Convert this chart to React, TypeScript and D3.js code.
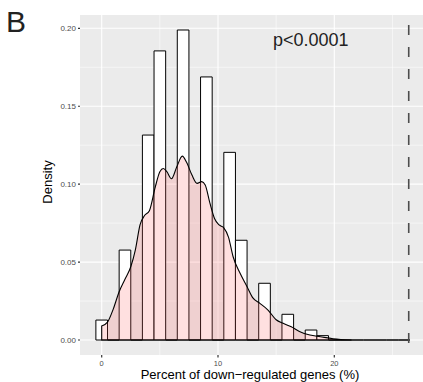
import React from "react";
import * as d3 from "d3";

// histogram bins (width 1, centred on integers) as density
const binMids = [0, 1, 2, 3, 4, 5, 6, 7, 8, 9, 10, 11, 12, 13, 14, 15, 16, 17, 18, 19, 20, 21, 22, 23, 24, 25, 26];
const binDensity = [
  0.0128, 0, 0.0577, 0, 0.1315, 0.1855, 0, 0.1989, 0, 0.1688, 0, 0.1204, 0.064, 0, 0.0364, 0,
  0.0165, 0, 0.0064, 0.0028, 0, 0, 0, 0, 0, 0, 0,
];

// kernel density curve
const densityX = [
  0, 0.5, 1.0, 1.5, 2.0, 2.5, 2.9, 3.3, 3.7, 4.1, 4.6, 5.0, 5.3, 5.6, 6.0, 6.45, 6.93, 7.3, 7.75,
  8.2, 8.6, 8.9, 9.3, 9.7, 10.1, 10.5, 10.9, 11.3, 11.9, 12.5, 13.0, 13.6, 14.3, 15.0, 15.6, 16.3,
  17.0, 17.9, 18.8, 19.9, 21.5,
];
const densityY = [
  0.009, 0.0115, 0.02, 0.031, 0.039, 0.047, 0.058, 0.074, 0.08, 0.083, 0.098, 0.108, 0.11, 0.108,
  0.1035, 0.111, 0.118, 0.114, 0.106, 0.1005, 0.1016, 0.0995, 0.088, 0.078, 0.0738, 0.072, 0.066,
  0.0534, 0.0428, 0.0342, 0.027, 0.0235, 0.0192, 0.013, 0.0107, 0.0085, 0.0055, 0.0032, 0.0021,
  0.0008, 0,
];

const observedValue = 26.4;
const xTicks = [0, 10, 20];
const xMinor = [5, 15, 25];
const yTicks = [0, 0.05, 0.1, 0.15, 0.2];
const yMinor = [0.025, 0.075, 0.125, 0.175];

const W = 423;
const H = 382;
const panel = { left: 80, right: 424, top: 15, bottom: 355 };
const font = "'Liberation Sans', Arial, Helvetica, sans-serif";

export default function App() {
  const x = d3.scaleLinear().domain([0, 20]).range([101.7, 334.3]);
  const y = d3.scaleLinear().domain([0, 0.2]).range([340, 28.3]);

  const density = densityX.map((d, i) => [d, densityY[i]] as [number, number]);
  const area = d3
    .area<[number, number]>()
    .x((d) => x(d[0]))
    .y0(y(0))
    .y1((d) => y(d[1]))
    .curve(d3.curveMonotoneX);

  const barPath = (mid: number, v: number) => {
    const p = d3.path();
    p.moveTo(x(mid - 0.5), y(0));
    p.lineTo(x(mid - 0.5), y(v));
    p.lineTo(x(mid + 0.5), y(v));
    p.lineTo(x(mid + 0.5), y(0));
    p.closePath();
    return p.toString();
  };

  return (
    <svg
      width={W}
      height={H}
      style={{ position: "absolute", left: 0, top: 0, background: "#fff" }}
      fontFamily={font}
    >
      <text x={6} y={32} fontSize={30} fill="#222">
        B
      </text>

      <rect
        x={panel.left}
        y={panel.top}
        width={panel.right - panel.left}
        height={panel.bottom - panel.top}
        fill="#EBEBEB"
      />
      {/* minor grid */}
      {yMinor.map((t) => (
        <line key={"ym" + t} x1={panel.left} x2={panel.right} y1={y(t)} y2={y(t)} stroke="#fff" strokeWidth={0.55} />
      ))}
      {xMinor.map((t) => (
        <line key={"xm" + t} y1={panel.top} y2={panel.bottom} x1={x(t)} x2={x(t)} stroke="#fff" strokeWidth={0.55} />
      ))}
      {/* major grid */}
      {yTicks.map((t) => (
        <line key={"yg" + t} x1={panel.left} x2={panel.right} y1={y(t)} y2={y(t)} stroke="#fff" strokeWidth={1.1} />
      ))}
      {xTicks.map((t) => (
        <line key={"xg" + t} y1={panel.top} y2={panel.bottom} x1={x(t)} x2={x(t)} stroke="#fff" strokeWidth={1.1} />
      ))}

      {/* histogram */}
      {binMids.map((m, i) => (
        <path key={"b" + m} d={barPath(m, binDensity[i])} fill="#fff" stroke="#000" strokeWidth={1} />
      ))}

      {/* density */}
      <path d={area(density) || ""} fill="#FF6666" fillOpacity={0.2} stroke="#000" strokeWidth={1.1} />

      {/* observed value */}
      <line
        x1={x(observedValue)}
        x2={x(observedValue)}
        y1={panel.top}
        y2={panel.bottom}
        stroke="#4D4D4D"
        strokeWidth={1.6}
        strokeDasharray="10 12"
        strokeDashoffset={-10}
      />

      <text x={273} y={46} fontSize={18} fill="#222">
        p&lt;0.0001
      </text>

      {/* y axis */}
      {yTicks.map((t) => (
        <g key={"yt" + t}>
          <line x1={78} x2={80} y1={y(t)} y2={y(t)} stroke="#333" strokeWidth={1.2} />
          <text x={76} y={y(t)} dy="0.35em" textAnchor="end" fontSize={8} fill="#4D4D4D">
            {d3.format(".2f")(t)}
          </text>
        </g>
      ))}
      {/* x axis */}
      {xTicks.map((t) => (
        <g key={"xt" + t}>
          <line x1={x(t)} x2={x(t)} y1={355} y2={357.5} stroke="#333" strokeWidth={1.2} />
          <text x={x(t)} y={366} textAnchor="middle" fontSize={7.5} fill="#4D4D4D">
            {t}
          </text>
        </g>
      ))}

      <text x={250} y={379} textAnchor="middle" fontSize={13} fill="#000">
        Percent of down−regulated genes (%)
      </text>
      <text
        transform={`translate(51.5,${(panel.top + panel.bottom) / 2 - 3}) rotate(-90)`}
        textAnchor="middle"
        fontSize={13}
        fill="#000"
      >
        Density
      </text>
    </svg>
  );
}
